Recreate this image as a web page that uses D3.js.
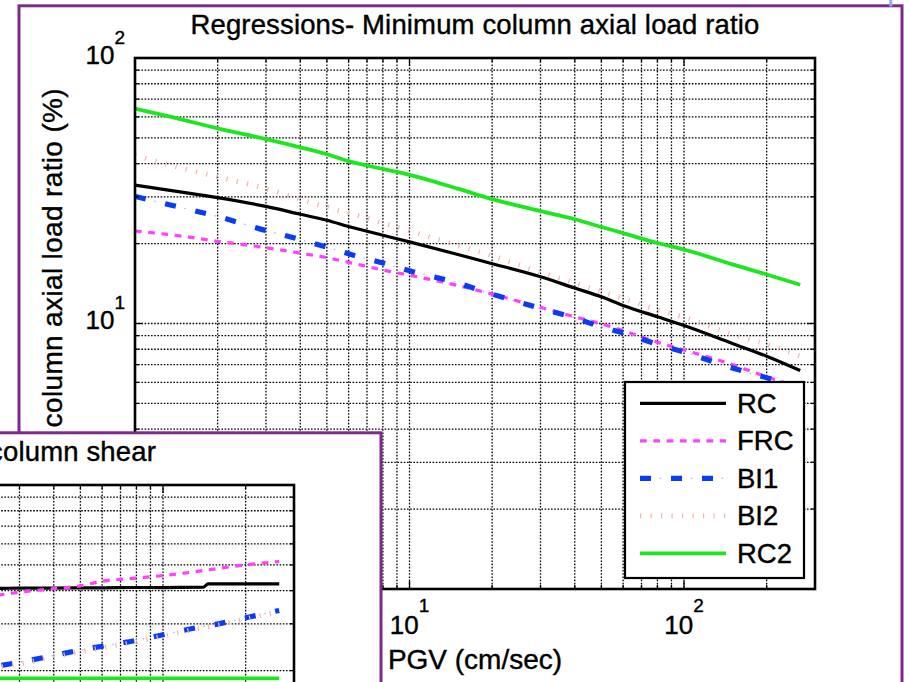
<!DOCTYPE html>
<html><head><meta charset="utf-8">
<script src="https://cdn.jsdelivr.net/npm/d3@7"></script>
<style>
html,body{margin:0;padding:0;background:#fff;overflow:hidden;}
svg{display:block;font-family:"Liberation Sans",Arial,Helvetica,sans-serif;}
svg text{stroke:#000;stroke-width:0.4px;}
</style></head><body>
<svg id="chart" width="904" height="682"></svg>
<script>
// ---- Minimum column axial load ratio (%) vs PGV (cm/sec) ----
const pgvAxial = [1, 1.5, 2, 3, 4, 5, 6, 8, 10, 15, 20, 30, 40, 50, 60, 80, 100, 150, 200, 265];
const rcAxial  = [33.2, 31.2, 29.8, 27.6, 25.8, 24.5, 23.2, 21.5, 20.3, 18.2, 16.8, 15.0, 13.6, 12.6, 11.7, 10.6, 9.83, 8.41, 7.53, 6.65];
const frcAxial = [22.3, 21.3, 20.4, 19.3, 18.4, 17.7, 17.0, 15.9, 15.2, 13.9, 12.9, 11.5, 10.6, 9.97, 9.4, 8.5, 7.95, 7.0, 6.3, 5.75];
const bi1Axial = [30.1, 27.2, 25.3, 22.4, 20.7, 19.4, 18.3, 16.9, 15.8, 14.2, 12.9, 11.4, 10.5, 9.7, 9.2, 8.35, 7.8, 6.8, 6.25, 5.8];
const bi2Axial = [43.0, 38.3, 35.7, 32.2, 29.4, 27.4, 26.1, 23.9, 22.3, 19.7, 18.0, 15.6, 14.2, 13.2, 12.4, 11.25, 10.55, 9.1, 8.35, 7.53];
const rc2Axial = [64.5, 58.5, 54.3, 49.5, 46.1, 43.4, 40.9, 38.2, 36.3, 32.2, 29.4, 26.5, 24.7, 23.1, 21.9, 20.1, 19.0, 16.7, 15.3, 14.0];

// ---- Column shear regressions vs PGV (second figure) ----
const pgvShear = [20, 25, 30, 40, 50, 60, 80, 100, 140, 146, 200, 265];
const rcShear  = [40.8, 40.8, 40.9, 40.9, 41.0, 41.0, 41.1, 41.1, 41.2, 42.4, 42.4, 42.4];
const frcShear = [38.0, 38.5, 39.5, 40.7, 41.7, 43.4, 44.6, 45.6, 47.6, 47.9, 50.0, 51.5];
const bi1Shear = [19.8, 20.8, 21.5, 22.8, 23.9, 24.7, 26.0, 27.3, 29.3, 29.5, 31.6, 33.7];
const bi2Shear = [19.5, 20.5, 21.2, 22.5, 23.6, 24.4, 25.7, 27.0, 29.0, 29.2, 31.3, 33.4];
const rc2Shear = [18.7, 18.7, 18.7, 18.7, 18.7, 18.7, 18.7, 18.7, 18.7, 18.7, 18.7, 18.7];

const seriesNames = ["RC", "FRC", "BI1", "BI2", "RC2"];
const xDomain = [1, 300];
const yDomain = [1, 100];

// line styles per series
const styles = {
  RC:  {stroke: "#000000", width: 3.2},
  FRC: {stroke: "#ff40ff", width: 3.2, dash: "6.7,6.6"},
  BI1: {stroke: "#0b3cf5", width: 5.2, dash: "11,20",
        dot: {stroke: "#a9b9ff", width: 1.3, dash: "1.5,29.5", offset: -19.75}},
  BI2: {stroke: "#f4b4ac", width: 5, dash: "1.2,9.3"},
  RC2: {stroke: "#1ee61e", width: 3.8}
};

const purple = "#7e2a8a";
const svg = d3.select("#chart");

const x = d3.scaleLog().domain(xDomain).range([135, 815]);
const y = d3.scaleLog().domain(yDomain).range([589, 58]);
const isMajor = v => Math.abs(Math.log10(v) - Math.round(Math.log10(v))) < 1e-9;

function drawFigure(g, cfg) {
  // figure frame
  g.append("rect")
    .attr("x", 19).attr("y", 5.8).attr("width", 883).attr("height", 1200)
    .attr("fill", "#fff").attr("stroke", purple).attr("stroke-width", 3);

  const [x0, x1] = x.range(), [y0, y1] = y.range();
  const xt = x.ticks(), yt = y.ticks();

  // dotted grid
  const grid = g.append("g").attr("stroke", "#000").attr("stroke-width", 1.3)
    .attr("stroke-dasharray", "1.6,1.6");
  grid.selectAll(".gx").data(xt.filter(v => v > xDomain[0] && v < xDomain[1])).join("line")
    .attr("x1", d => x(d)).attr("x2", d => x(d)).attr("y1", y1).attr("y2", y0);
  grid.selectAll(".gy").data(yt.filter(v => v > yDomain[0] && v < yDomain[1])).join("line")
    .attr("y1", d => y(d)).attr("y2", d => y(d)).attr("x1", x0).attr("x2", x1);

  // regression curves
  const line = d3.line().x(d => x(d[0])).y(d => y(d[1])).curve(d3.curveMonotoneX);
  seriesNames.forEach(name => {
    const st = styles[name];
    const pts = cfg.pgv.map((p, i) => [p, cfg.values[name][i]]);
    g.append("path").attr("d", line(pts)).attr("fill", "none")
      .attr("stroke", st.stroke).attr("stroke-width", st.width)
      .attr("stroke-dasharray", st.dash || null);
    if (st.dot) {
      g.append("path").attr("d", line(pts)).attr("fill", "none")
        .attr("stroke", st.dot.stroke).attr("stroke-width", st.dot.width)
        .attr("stroke-dasharray", st.dot.dash).attr("stroke-dashoffset", st.dot.offset);
    }
  });

  // axes box and inward ticks on all sides
  const ax = g.append("g").attr("stroke", "#000");
  xt.forEach(v => {
    const L = isMajor(v) ? 8 : 4;
    ax.append("line").attr("x1", x(v)).attr("x2", x(v)).attr("y1", y0).attr("y2", y0 - L).attr("stroke-width", 1.3);
    ax.append("line").attr("x1", x(v)).attr("x2", x(v)).attr("y1", y1).attr("y2", y1 + L).attr("stroke-width", 1.3);
  });
  yt.forEach(v => {
    const L = isMajor(v) ? 8 : 4;
    ax.append("line").attr("y1", y(v)).attr("y2", y(v)).attr("x1", x0).attr("x2", x0 + L).attr("stroke-width", 1.3);
    ax.append("line").attr("y1", y(v)).attr("y2", y(v)).attr("x1", x1).attr("x2", x1 - L).attr("stroke-width", 1.3);
  });
  ax.append("rect").attr("x", x0).attr("y", y1).attr("width", x1 - x0).attr("height", y0 - y1)
    .attr("fill", "none").attr("stroke-width", 2.6);

  // tick labels 10^n
  if (cfg.tickLabels) {
    const majX = xt.filter(isMajor), majY = yt.filter(isMajor);
    const xl = g.selectAll(".xtl").data(majX).join("text")
      .attr("x", d => x(d)).attr("y", 634).attr("text-anchor", "middle")
      .attr("font-size", 26).attr("fill", "#000");
    xl.append("tspan").text("10");
    xl.append("tspan").attr("dy", -22).attr("font-size", 19).text(d => Math.round(Math.log10(d)));
    const yl = g.selectAll(".ytl").data(majY).join("text")
      .attr("x", 125).attr("y", d => y(d) + 5.5).attr("text-anchor", "end")
      .attr("font-size", 26).attr("fill", "#000");
    yl.append("tspan").text("10");
    yl.append("tspan").attr("dy", -20).attr("font-size", 19).text(d => Math.round(Math.log10(d)));
  }

  // title
  g.append("text").attr("x", cfg.titleX).attr("y", 34.3).attr("text-anchor", cfg.titleAnchor)
    .attr("font-size", 27.5).attr("letter-spacing", 0.15).attr("fill", "#000").text(cfg.title);

  if (cfg.xLabel) {
    g.append("text").attr("x", (x0 + x1) / 2).attr("y", 669).attr("text-anchor", "middle")
      .attr("font-size", 28).attr("fill", "#000").text(cfg.xLabel);
  }
  if (cfg.yLabel) {
    g.append("text").attr("transform", "translate(62,88) rotate(-90)").attr("text-anchor", "end")
      .attr("font-size", 28).attr("letter-spacing", 0.35).attr("fill", "#000").text(cfg.yLabel);
  }

  if (cfg.legend) {
    const lg = g.append("g");
    lg.append("rect").attr("x", 625).attr("y", 382).attr("width", 179).attr("height", 196)
      .attr("fill", "#fff").attr("stroke", "#000").attr("stroke-width", 2.2);
    seriesNames.forEach((name, i) => {
      const st = styles[name];
      const ly = 403.3 + i * 37.5;
      lg.append("line").attr("x1", 640).attr("x2", 726).attr("y1", ly).attr("y2", ly)
        .attr("stroke", st.stroke).attr("stroke-width", st.width)
        .attr("stroke-dasharray", st.dash || null);
      if (st.dot) {
        lg.append("line").attr("x1", 640).attr("x2", 726).attr("y1", ly).attr("y2", ly)
          .attr("stroke", st.dot.stroke).attr("stroke-width", st.dot.width)
          .attr("stroke-dasharray", st.dot.dash).attr("stroke-dashoffset", st.dot.offset);
      }
      lg.append("text").attr("x", 737).attr("y", ly + 9.6).attr("font-size", 27.5)
        .attr("fill", "#000").text(name);
    });
  }
}

// main figure: axial load ratio
drawFigure(svg.append("g"), {
  pgv: pgvAxial,
  values: {RC: rcAxial, FRC: frcAxial, BI1: bi1Axial, BI2: bi2Axial, RC2: rc2Axial},
  title: "Regressions- Minimum column axial load ratio",
  titleX: 475, titleAnchor: "middle",
  xLabel: "PGV (cm/sec)",
  yLabel: "Minimum column axial load ratio (%)",
  tickLabels: true,
  legend: true
});

// second figure laid over the lower-left corner: column shear
drawFigure(svg.append("g").attr("transform", "translate(-521,427)"), {
  pgv: pgvShear,
  values: {RC: rcShear, FRC: frcShear, BI1: bi1Shear, BI2: bi2Shear, RC2: rc2Shear},
  title: "Regressions- Maximum column shear",
  titleX: 677, titleAnchor: "end",
  tickLabels: false,
  legend: false
});

// edge of a neighbouring slide element
svg.append("line").attr("x1", 890.8).attr("x2", 890.8).attr("y1", 0).attr("y2", 6.5)
  .attr("stroke", "#95a8f8").attr("stroke-width", 3);
</script>
</body></html>
